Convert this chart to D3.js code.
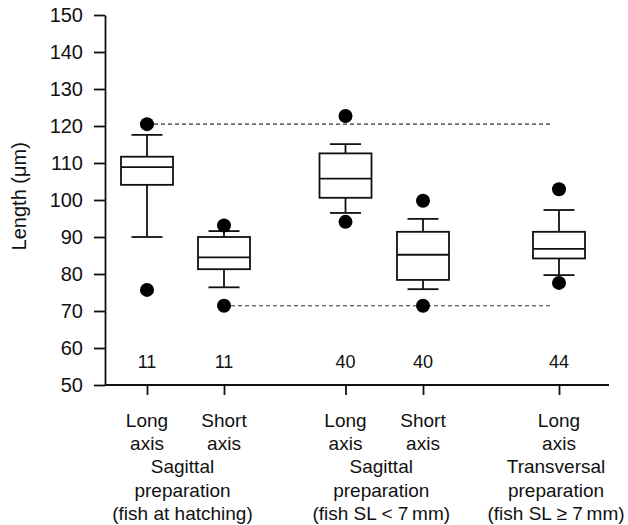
<!DOCTYPE html>
<html>
<head>
<meta charset="utf-8">
<script src="https://cdn.jsdelivr.net/npm/d3@7"></script>
<style>
  body { margin: 0; background: #fff; }
  text { font-family: "Liberation Sans", Arial, sans-serif; fill: #111; }
</style>
</head>
<body>
<script>
// box plot values (µm)
var categories = ["hatchLong", "hatchShort", "smallLong", "smallShort", "bigLong"];
var whiskerLow = [90, 76.4, 96.5, 75.9, 79.7];
var q1 = [104.1, 81.3, 100.6, 78.4, 84.2];
var medians = [108.9, 84.5, 105.8, 85.2, 86.8];
var q3 = [111.7, 90, 112.6, 91.4, 91.4];
var whiskerHigh = [117.6, 91.6, 115.1, 94.9, 97.3];
var outlierLow = [75.7, 71.4, 94.1, 71.4, 77.6];
var outlierHigh = [120.5, 93.1, 122.7, 99.8, 102.9];
var counts = [11, 11, 40, 40, 44];

var axisLabels = [["Long", "axis"], ["Short", "axis"], ["Long", "axis"], ["Short", "axis"], ["Long", "axis"]];
var groupLabels = [
  ["Sagittal", "preparation", "(fish at hatching)"],
  ["Sagittal", "preparation", "(fish SL < 7\u2009mm)"],
  ["Transversal", "preparation", "(fish SL \u2265 7\u2009mm)"]
];
var groupMembers = [[0, 1], [2, 3], [4]];

// dashed reference lines: value and the category they start from
var refValues = [120.5, 71.4];
var refStart = [0, 1];

var yTicks = [50, 60, 70, 80, 90, 100, 110, 120, 130, 140, 150];

var width = 628,
  height = 525,
  plotLeft = 105,
  plotRight = 609,
  plotTop = 15,
  plotBottom = 385,
  boxWidth = 52,
  capWidth = 31,
  dotR = 7,
  fontSize = "19px";

var svg = d3
  .select("body")
  .append("svg")
  .attr("width", width)
  .attr("height", height);

var y = d3.scaleLinear().domain([50, 150]).range([plotBottom, plotTop]);

var x = d3
  .scaleOrdinal()
  .domain(categories)
  .range([147, 224, 345.5, 423, 559]);

// y axis
var yAxis = d3
  .axisLeft(y)
  .tickValues(yTicks)
  .tickSizeInner(11)
  .tickSizeOuter(0)
  .tickPadding(11);

var gy = svg
  .append("g")
  .attr("transform", `translate(${plotLeft},0)`)
  .call(yAxis);
gy.selectAll("path, line").attr("stroke", "#111").attr("stroke-width", 1.8);
gy.selectAll("text").style("font-size", "20px").attr("fill", "#111");

svg
  .append("text")
  .attr("transform", `translate(21,${y(101)}) rotate(-90)`)
  .attr("text-anchor", "middle")
  .attr("dominant-baseline", "middle")
  .style("font-size", "20px")
  .text("Length (\u03bcm)");

// x axis
var xAxis = d3.axisBottom(x).tickSizeInner(10).tickSizeOuter(0).tickFormat("");
var gx = svg
  .append("g")
  .attr("transform", `translate(0,${plotBottom})`)
  .call(xAxis);
gx.select(".domain").remove();
gx.selectAll("line").attr("stroke", "#111").attr("stroke-width", 1.8);

svg
  .append("line")
  .attr("x1", plotLeft)
  .attr("x2", plotRight)
  .attr("y1", plotBottom)
  .attr("y2", plotBottom)
  .attr("stroke", "#111")
  .attr("stroke-width", 1.8);

// dashed reference lines
svg
  .selectAll(".ref")
  .data(refValues)
  .enter()
  .append("line")
  .attr("class", "ref")
  .attr("x1", (d, i) => x(categories[refStart[i]]))
  .attr("x2", 553)
  .attr("y1", (d) => y(d))
  .attr("y2", (d) => y(d))
  .attr("stroke", "#333")
  .attr("stroke-width", 1.1)
  .attr("stroke-dasharray", "4,3");

// boxes
var boxes = svg
  .selectAll(".box")
  .data(categories)
  .enter()
  .append("g")
  .attr("class", "box")
  .attr("transform", (d) => `translate(${x(d)},0)`);

boxes
  .append("line")
  .attr("y1", (d, i) => y(whiskerLow[i]))
  .attr("y2", (d, i) => y(q1[i]))
  .attr("stroke", "#111")
  .attr("stroke-width", 1.8);

boxes
  .append("line")
  .attr("y1", (d, i) => y(q3[i]))
  .attr("y2", (d, i) => y(whiskerHigh[i]))
  .attr("stroke", "#111")
  .attr("stroke-width", 1.8);

boxes
  .selectAll(".cap")
  .data((d, i) => [whiskerLow[i], whiskerHigh[i]])
  .enter()
  .append("line")
  .attr("class", "cap")
  .attr("x1", -capWidth / 2)
  .attr("x2", capWidth / 2)
  .attr("y1", (v) => y(v))
  .attr("y2", (v) => y(v))
  .attr("stroke", "#111")
  .attr("stroke-width", 1.8);

boxes
  .append("rect")
  .attr("x", -boxWidth / 2)
  .attr("width", boxWidth)
  .attr("y", (d, i) => y(q3[i]))
  .attr("height", (d, i) => y(q1[i]) - y(q3[i]))
  .attr("fill", "#fff")
  .attr("stroke", "#111")
  .attr("stroke-width", 1.8);

boxes
  .append("line")
  .attr("x1", -boxWidth / 2)
  .attr("x2", boxWidth / 2)
  .attr("y1", (d, i) => y(medians[i]))
  .attr("y2", (d, i) => y(medians[i]))
  .attr("stroke", "#111")
  .attr("stroke-width", 1.8);

boxes
  .selectAll(".dot")
  .data((d, i) => [outlierLow[i], outlierHigh[i]])
  .enter()
  .append("circle")
  .attr("class", "dot")
  .attr("r", dotR)
  .attr("cy", (v) => y(v))
  .attr("fill", "#000");

// sample sizes
boxes
  .append("text")
  .attr("y", 368)
  .attr("text-anchor", "middle")
  .style("font-size", "18px")
  .text((d, i) => counts[i]);

// category labels under the ticks
boxes
  .selectAll(".cat")
  .data((d, i) => axisLabels[i])
  .enter()
  .append("text")
  .attr("class", "cat")
  .attr("y", (t, j) => 427 + j * 23)
  .attr("text-anchor", "middle")
  .style("font-size", fontSize)
  .text((t) => t);

// group labels
var groups = svg
  .selectAll(".grp")
  .data(groupLabels)
  .enter()
  .append("g")
  .attr("class", "grp")
  .attr("transform", (d, i) => {
    var cx = d3.mean(groupMembers[i], (k) => x(categories[k]));
    return `translate(${cx - 3},0)`;
  });

groups
  .selectAll("text")
  .data((d) => d)
  .enter()
  .append("text")
  .attr("y", (t, j) => 473 + j * 23.5)
  .attr("text-anchor", "middle")
  .style("font-size", fontSize)
  .text((t) => t);
</script>
</body>
</html>
